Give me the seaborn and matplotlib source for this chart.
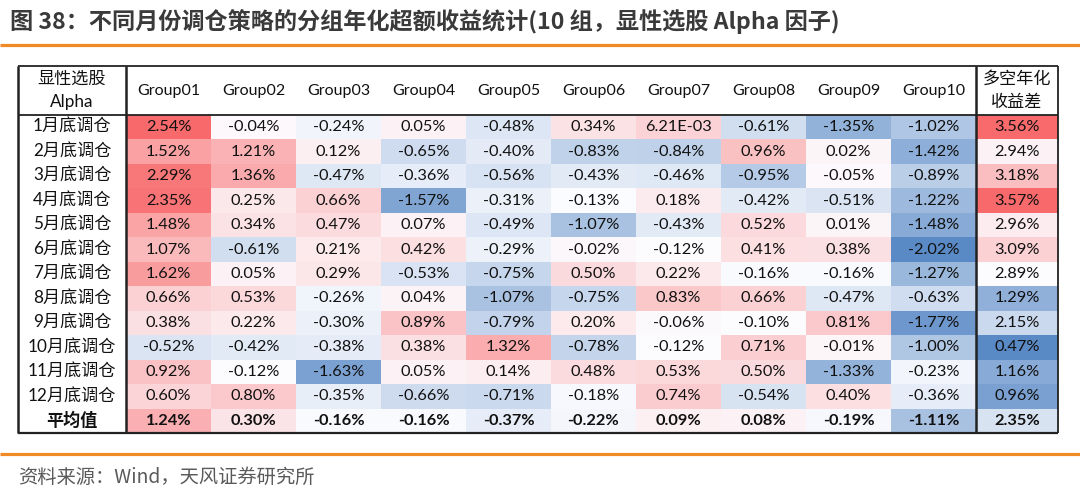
import numpy as np
import pandas as pd
import matplotlib.pyplot as plt
import seaborn as sns
from matplotlib.colors import LinearSegmentedColormap, TwoSlopeNorm

# Data (annualised excess return, %)
rows = ['1月底调仓', '2月底调仓', '3月底调仓', '4月底调仓', '5月底调仓', '6月底调仓',
        '7月底调仓', '8月底调仓', '9月底调仓', '10月底调仓', '11月底调仓', '12月底调仓', '平均值']
groups = ['Group01', 'Group02', 'Group03', 'Group04', 'Group05',
          'Group06', 'Group07', 'Group08', 'Group09', 'Group10']

g01 = [2.54, 1.52, 2.29, 2.35, 1.48, 1.07, 1.62, 0.66, 0.38, -0.52, 0.92, 0.60, 1.24]
g02 = [-0.04, 1.21, 1.36, 0.25, 0.34, -0.61, 0.05, 0.53, 0.22, -0.42, -0.12, 0.80, 0.30]
g03 = [-0.24, 0.12, -0.47, 0.66, 0.47, 0.21, 0.29, -0.26, -0.30, -0.38, -1.63, -0.35, -0.16]
g04 = [0.05, -0.65, -0.36, -1.57, 0.07, 0.42, -0.53, 0.04, 0.89, 0.38, 0.05, -0.66, -0.16]
g05 = [-0.48, -0.40, -0.56, -0.31, -0.49, -0.29, -0.75, -1.07, -0.79, 1.32, 0.14, -0.71, -0.37]
g06 = [0.34, -0.83, -0.43, -0.13, -1.07, -0.02, 0.50, -0.75, 0.20, -0.78, 0.48, -0.18, -0.22]
g07 = [0.621, -0.84, -0.46, 0.18, -0.43, -0.12, 0.22, 0.83, -0.06, -0.12, 0.53, 0.74, 0.09]
g08 = [-0.61, 0.96, -0.95, -0.42, 0.52, 0.41, -0.16, 0.66, -0.10, 0.71, 0.50, -0.54, 0.08]
g09 = [-1.35, 0.02, -0.05, -0.51, 0.01, 0.38, -0.16, -0.47, 0.81, -0.01, -1.33, 0.40, -0.19]
g10 = [-1.02, -1.42, -0.89, -1.22, -1.48, -2.02, -1.27, -0.63, -1.77, -1.00, -0.23, -0.36, -1.11]
long_short = [3.56, 2.94, 3.18, 3.57, 2.96, 3.09, 2.89, 1.29, 2.15, 0.47, 1.16, 0.96, 2.35]

# cell shown in scientific format in the source table
odd_cell = (0, 6, '6.21E-03')

title = '图 38：不同月份调仓策略的分组年化超额收益统计(10 组，显性选股 Alpha 因子)'
source = '资料来源：Wind，天风证券研究所'

grp_df = pd.DataFrame(dict(zip(groups, [g01, g02, g03, g04, g05, g06, g07, g08, g09, g10])), index=rows)
ls_df = pd.DataFrame({'多空年化\n收益差': long_short}, index=rows)

grp_labels = grp_df.map(lambda v: f'{v:.2f}%')
grp_labels.iloc[odd_cell[0], odd_cell[1]] = odd_cell[2]
ls_labels = ls_df.map(lambda v: f'{v:.2f}%')

# Excel style 3-colour scale (min / 50th percentile / max)
cmap = LinearSegmentedColormap.from_list('excel3', ['#5A8AC6', '#FCFCFF', '#F8696B'])


def excel_norm(df):
    v = df.values.ravel()
    return TwoSlopeNorm(vmin=v.min(), vcenter=np.percentile(v, 50), vmax=v.max())


sns.set_theme(style='white')
plt.rcParams['font.family'] = ['Lato', 'Noto Sans CJK SC', 'DejaVu Sans']

W, H = 1080, 500
fig = plt.figure(figsize=(W / 100, H / 100), dpi=100)


def box(x0, y0, x1, y1):
    return [x0 / W, 1 - y1 / H, (x1 - x0) / W, (y1 - y0) / H]


TOP, HEAD, BOT = 66, 115, 433
LEFT, LAB, LS, RIGHT = 18, 126, 976, 1058
cell_font = 11.8
px = 72 / 100  # points per pixel

# group block
ax_g = fig.add_axes(box(LAB, HEAD, LS, BOT))
sns.heatmap(grp_df, ax=ax_g, cmap=cmap, norm=excel_norm(grp_df), annot=grp_labels, fmt='',
            cbar=False, xticklabels=True, yticklabels=True,
            annot_kws=dict(fontsize=cell_font, color='#111111'))
ax_g.xaxis.tick_top()
ax_g.tick_params(axis='x', length=0, pad=(HEAD - (TOP + HEAD) / 2) * px, labelsize=11.5)
ax_g.tick_params(axis='y', length=0, pad=(LAB - (LEFT + LAB) / 2) * px, labelsize=12.3)
plt.setp(ax_g.get_xticklabels(), va='center', rotation=0, color='#111111')
plt.setp(ax_g.get_yticklabels(), ha='center', rotation=0, color='#111111')
ax_g.get_yticklabels()[-1].set_fontweight('bold')
for t in ax_g.texts:
    if t.get_position()[1] > len(rows) - 1:
        t.set_fontweight('bold')
ax_g.set_xlabel('')
ax_g.set_ylabel('')

# long-short column
ax_l = fig.add_axes(box(LS, HEAD, RIGHT, BOT))
sns.heatmap(ls_df, ax=ax_l, cmap=cmap, norm=excel_norm(ls_df), annot=ls_labels, fmt='',
            cbar=False, xticklabels=True, yticklabels=False,
            annot_kws=dict(fontsize=cell_font, color='#111111'))
ax_l.xaxis.tick_top()
ax_l.tick_params(axis='x', length=0, pad=(HEAD - (TOP + HEAD) / 2) * px, labelsize=12.3)
plt.setp(ax_l.get_xticklabels(), va='center', ha='center', rotation=0, color='#111111',
         linespacing=1.55)
for t in ax_l.texts:
    if t.get_position()[1] > len(rows) - 1:
        t.set_fontweight('bold')
ax_l.set_xlabel('')
ax_l.set_ylabel('')

# frame, title and footer
ax_f = fig.add_axes([0, 0, 1, 1], zorder=5)
ax_f.set_xlim(0, W)
ax_f.set_ylim(H, 0)
ax_f.axis('off')

ax_f.text((LEFT + LAB) / 2, (TOP + HEAD) / 2, '显性选股\nAlpha', ha='center', va='center',
          fontsize=12.3, color='#111111', linespacing=1.55)

ax_f.hlines([TOP, HEAD], LEFT, RIGHT, color='#222222', lw=1.3)
ax_f.hlines([BOT], LEFT, RIGHT, color='#222222', lw=1.6)
ax_f.vlines([LEFT, LAB, LS], TOP, BOT, color='#222222', lw=1.8)
ax_f.vlines([RIGHT], TOP, BOT, color='#222222', lw=1.3)

ax_f.hlines([45, 454], 0, W, color='#F08A24', lw=2.3)
ax_f.text(10, 22, title, ha='left', va='center', fontsize=16.7, fontweight='bold',
          color='#3a3a3a', family=['Noto Sans CJK SC', 'DejaVu Sans'])
ax_f.text(18, 477, source, ha='left', va='center', fontsize=13.9, color='#5a5a5a',
          family=['Noto Sans CJK SC', 'DejaVu Sans'])

fig.savefig('out.png', dpi=100)
